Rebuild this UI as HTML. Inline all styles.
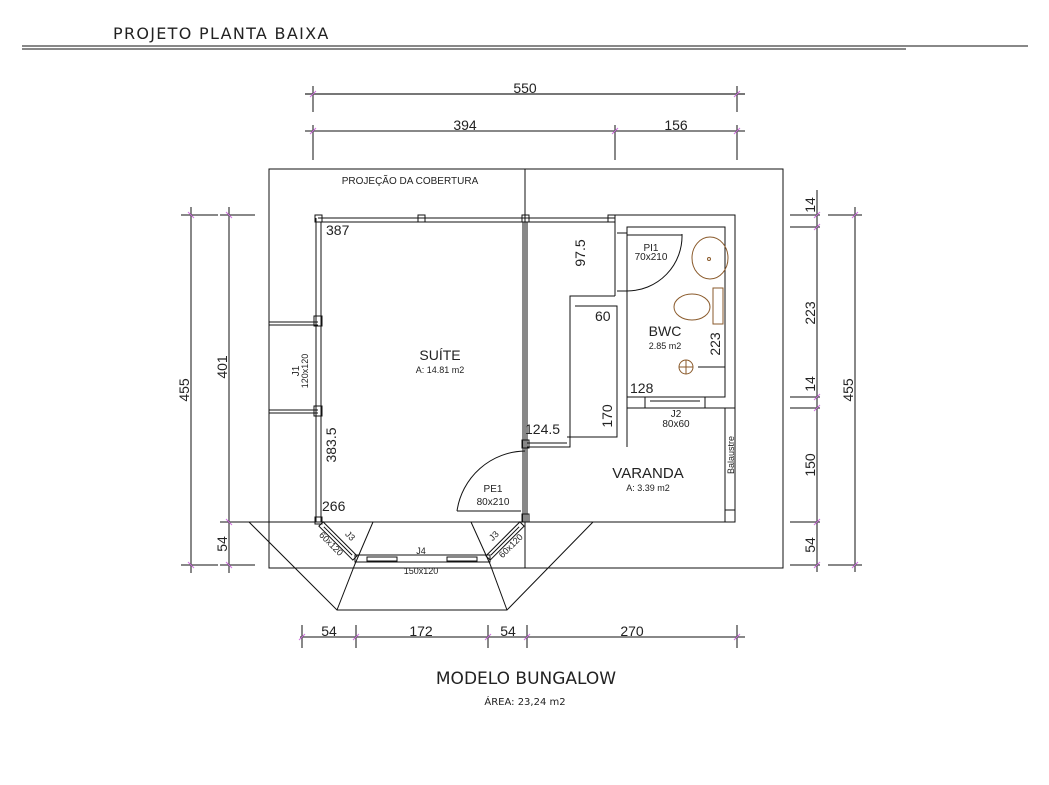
<!DOCTYPE html>
<html><head><meta charset="utf-8"><style>
html,body{margin:0;padding:0;background:#fff;}
svg{display:block}
text{font-family:"Liberation Sans",sans-serif;fill:#222}
</style></head><body>
<svg width="1049" height="785" viewBox="0 0 1049 785" xmlns="http://www.w3.org/2000/svg">
<g stroke="#111" stroke-width="1" fill="none">
<line x1="22" y1="46" x2="1028" y2="46"/>
<line x1="22" y1="49" x2="906" y2="49"/>
<line x1="305" y1="94" x2="745" y2="94" stroke="#777" stroke-width="2"/>
<line x1="305" y1="131" x2="745" y2="131"/>
<line x1="313" y1="86" x2="313" y2="112"/><line x1="313" y1="125" x2="313" y2="160"/>
<line x1="737" y1="86" x2="737" y2="112"/><line x1="737" y1="125" x2="737" y2="160"/>
<line x1="615" y1="125" x2="615" y2="160"/>
<line x1="300" y1="637" x2="745" y2="637"/>
<line x1="302" y1="625" x2="302" y2="648"/><line x1="356" y1="625" x2="356" y2="648"/>
<line x1="488" y1="625" x2="488" y2="648"/><line x1="527" y1="625" x2="527" y2="648"/>
<line x1="737" y1="625" x2="737" y2="648"/>
<line x1="191" y1="207" x2="191" y2="573"/>
<line x1="229" y1="207" x2="229" y2="573"/>
<line x1="181" y1="215" x2="218" y2="215"/><line x1="220" y1="215" x2="255" y2="215"/>
<line x1="181" y1="565" x2="218" y2="565"/><line x1="220" y1="565" x2="255" y2="565"/>
<line x1="220" y1="522" x2="318" y2="522"/>
<line x1="817" y1="190" x2="817" y2="572"/>
<line x1="855" y1="207" x2="855" y2="572"/>
<line x1="790" y1="215" x2="820" y2="215"/><line x1="790" y1="227" x2="820" y2="227"/>
<line x1="790" y1="397" x2="820" y2="397"/><line x1="790" y1="408" x2="820" y2="408"/>
<line x1="790" y1="522" x2="820" y2="522"/><line x1="790" y1="565" x2="820" y2="565"/>
<line x1="828" y1="215" x2="862" y2="215"/><line x1="828" y1="565" x2="862" y2="565"/>
<rect x="269" y="169" width="514" height="399"/>
<line x1="525" y1="169" x2="525" y2="568"/>
<line x1="269" y1="322" x2="318" y2="322"/><line x1="269" y1="325" x2="318" y2="325"/>
<line x1="269" y1="410" x2="318" y2="410"/><line x1="269" y1="413" x2="318" y2="413"/>
<line x1="249" y1="522" x2="600" y2="522"/>
<polyline points="249,522 337,610 507,610 593,522"/>
<polyline points="373,522 355,564 337,610"/>
<polyline points="471,522 490,564 507,610"/>
<line x1="318" y1="218" x2="615" y2="218"/><line x1="318" y1="222" x2="615" y2="222"/>
<line x1="316" y1="218" x2="316" y2="522"/><line x1="321" y1="222" x2="321" y2="522"/>
<line x1="523" y1="222" x2="523" y2="522"/><line x1="527" y1="222" x2="527" y2="522"/>
<rect x="315" y="215" width="7" height="7"/><rect x="418" y="215" width="7" height="7"/>
<rect x="522" y="215" width="7" height="7"/><rect x="608" y="215" width="7" height="7"/>
<rect x="314" y="316" width="8" height="10"/><rect x="314" y="406" width="8" height="10"/>
<rect x="316" y="326" width="5" height="80"/>
<rect x="315" y="517" width="7" height="7"/>
<rect x="522" y="440" width="7" height="8"/><rect x="522" y="514" width="7" height="8"/>
<g transform="translate(321,524) rotate(45)"><rect x="0" y="-3" width="48" height="6"/><line x1="4" y1="0" x2="44" y2="0"/></g>
<g transform="translate(522,524) rotate(135)"><rect x="0" y="-3" width="48" height="6"/><line x1="4" y1="0" x2="44" y2="0"/></g>
<rect x="355" y="555" width="135" height="7"/>
<rect x="367" y="557" width="30" height="4"/><rect x="447" y="557" width="30" height="4"/>
<path d="M525,451 A70,70 0 0 0 457,511"/>
<line x1="457" y1="511" x2="521" y2="511"/>
<polyline points="615,215 735,215 735,522 527,522"/>
<rect x="627" y="227" width="98" height="170"/>
<line x1="615" y1="215" x2="615" y2="296"/>
<polyline points="615,296 570,296 570,447 527,447"/>
<polyline points="527,443 567,443"/>
<polyline points="575,306 617,306 617,437 567,437"/>
<polyline points="627,397 627,447"/>
<line x1="627" y1="408" x2="735" y2="408"/>
<rect x="725" y="408" width="10" height="114"/><line x1="725" y1="510" x2="735" y2="510"/>
<rect x="645" y="397" width="60" height="11"/><line x1="650" y1="401" x2="700" y2="401"/>
<path d="M682,234 A55,55 0 0 1 627,291" />
<line x1="627" y1="235" x2="682" y2="235"/>
<line x1="617" y1="233" x2="627" y2="233"/><line x1="617" y1="291" x2="627" y2="291"/>
<line x1="698" y1="367" x2="725" y2="367"/>
</g>
<g stroke="#8a5a2b" fill="none" stroke-width="1">
<ellipse cx="710" cy="258" rx="18" ry="21"/>
<circle cx="709" cy="259" r="1.5"/>
<ellipse cx="692" cy="307" rx="18" ry="13"/>
<rect x="713" y="288" width="10" height="36"/>
<circle cx="686" cy="367" r="7"/>
<line x1="679" y1="367" x2="693" y2="367"/><line x1="686" y1="360" x2="686" y2="374"/>
</g>
<g stroke="#d070e0" stroke-width="1">
<line x1="310" y1="97" x2="316" y2="91"/><line x1="734" y1="97" x2="740" y2="91"/>
<line x1="310" y1="134" x2="316" y2="128"/><line x1="612" y1="134" x2="618" y2="128"/><line x1="734" y1="134" x2="740" y2="128"/>
<line x1="299" y1="640" x2="305" y2="634"/><line x1="353" y1="640" x2="359" y2="634"/><line x1="485" y1="640" x2="491" y2="634"/><line x1="524" y1="640" x2="530" y2="634"/><line x1="734" y1="640" x2="740" y2="634"/>
<line x1="188" y1="212" x2="194" y2="218"/><line x1="188" y1="562" x2="194" y2="568"/>
<line x1="226" y1="212" x2="232" y2="218"/><line x1="226" y1="519" x2="232" y2="525"/><line x1="226" y1="562" x2="232" y2="568"/>
<line x1="814" y1="218" x2="820" y2="212"/><line x1="814" y1="230" x2="820" y2="224"/><line x1="814" y1="400" x2="820" y2="394"/><line x1="814" y1="411" x2="820" y2="405"/><line x1="814" y1="525" x2="820" y2="519"/><line x1="814" y1="568" x2="820" y2="562"/>
<line x1="852" y1="218" x2="858" y2="212"/><line x1="852" y1="568" x2="858" y2="562"/>
</g>
<text x="113" y="39" font-size="16" style="font-family:'DejaVu Sans',sans-serif" letter-spacing="1.3">PROJETO PLANTA BAIXA</text>
<g font-size="14" text-anchor="middle">
<text x="525" y="93">550</text><text x="465" y="130">394</text><text x="676" y="130">156</text>
<text x="329" y="636">54</text><text x="421" y="636">172</text><text x="508" y="636">54</text><text x="632" y="636">270</text>
<text transform="translate(189,390) rotate(-90)">455</text>
<text transform="translate(227,367) rotate(-90)">401</text>
<text transform="translate(227,544) rotate(-90)">54</text>
<text transform="translate(815,205) rotate(-90)">14</text>
<text transform="translate(815,313) rotate(-90)">223</text>
<text transform="translate(815,384) rotate(-90)">14</text>
<text transform="translate(815,465) rotate(-90)">150</text>
<text transform="translate(815,545) rotate(-90)">54</text>
<text transform="translate(853,390) rotate(-90)">455</text>
<text transform="translate(336,445) rotate(-90)">383.5</text>
<text transform="translate(585,253) rotate(-90)">97.5</text>
<text transform="translate(612,416) rotate(-90)">170</text>
<text transform="translate(720,344) rotate(-90)">223</text>
</g>
<g font-size="14">
<text x="326" y="235">387</text><text x="595" y="321">60</text><text x="630" y="393">128</text>
<text x="525" y="434">124.5</text><text x="322" y="511">266</text>
</g>
<g text-anchor="middle">
<text x="410" y="184" font-size="10">PROJEÇÃO DA COBERTURA</text>
<text x="440" y="360" font-size="14">SUÍTE</text><text x="440" y="373" font-size="9">A: 14.81 m2</text>
<text x="665" y="336" font-size="14">BWC</text><text x="665" y="349" font-size="9">2.85 m2</text>
<text x="651" y="251" font-size="10">PI1</text><text x="651" y="260" font-size="10">70x210</text>
<text x="676" y="417" font-size="10">J2</text><text x="676" y="427" font-size="10">80x60</text>
<text x="648" y="478" font-size="15">VARANDA</text><text x="648" y="491" font-size="9">A: 3.39 m2</text>
<text x="493" y="492" font-size="10">PE1</text><text x="493" y="505" font-size="10">80x210</text>
<text x="421" y="554" font-size="9">J4</text><text x="421" y="574" font-size="9">150x120</text>
<text transform="translate(734,455) rotate(-90)" font-size="9">Balaustre</text>
<text transform="translate(299,371) rotate(-90)" font-size="10">J1</text>
<text transform="translate(308,371) rotate(-90)" font-size="9">120x120</text>
<text transform="translate(348,538) rotate(45)" font-size="9">J3</text>
<text transform="translate(329,546) rotate(45)" font-size="9">60x120</text>
<text transform="translate(496,538) rotate(-45)" font-size="9">J3</text>
<text transform="translate(513,548) rotate(-45)" font-size="9">60x120</text>
<text x="526" y="684" font-size="17" style="font-family:'DejaVu Sans',sans-serif">MODELO BUNGALOW</text>
<text x="525" y="705" font-size="10" style="font-family:'DejaVu Sans',sans-serif">ÁREA: 23,24 m2</text>
</g>
</svg>
</body></html>
